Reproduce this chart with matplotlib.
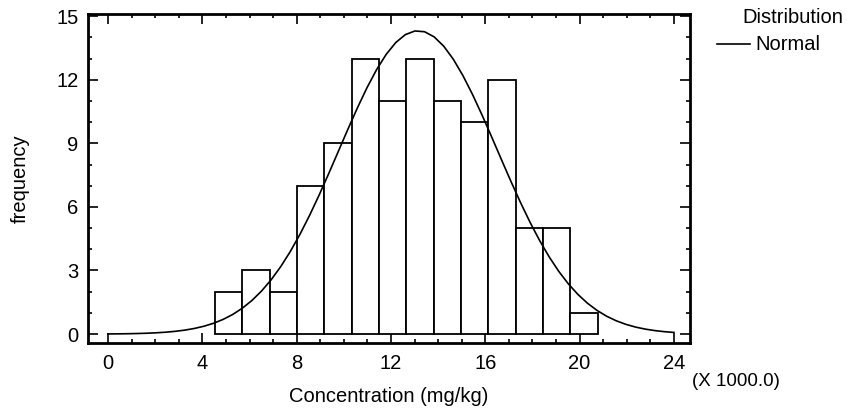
import numpy as np
import matplotlib
matplotlib.use("Agg")
import matplotlib.pyplot as plt
from matplotlib.ticker import MultipleLocator

plt.rcParams['font.family'] = ['Liberation Sans', 'DejaVu Sans']

# histogram (concentration in thousands of mg/kg)
bin_start = 4.54
bin_width = 1.159
counts = [2, 3, 2, 7, 9, 13, 11, 13, 11, 10, 12, 5, 5, 1]

# fitted normal distribution
mu = 13.15
sigma = 3.36
n_obs = sum(counts)

edges = bin_start + bin_width * np.arange(len(counts))
xs = np.linspace(0, 24, 60)
ys = n_obs * bin_width / (sigma * np.sqrt(2 * np.pi)) * np.exp(-0.5 * ((xs - mu) / sigma) ** 2)

fs = 14.5
fig = plt.figure(figsize=(8.47, 4.12), dpi=100)
ax = fig.add_axes([0.1039, 0.1675, 0.7107, 0.7985])

ax.bar(edges, counts, width=bin_width, align='edge', color='white',
       edgecolor='black', linewidth=1.3, zorder=2)
ax.plot(xs, ys, color='black', linewidth=1.2, zorder=3)

ax.set_xlim(-0.85, 24.68)
ax.set_ylim(-0.42, 15.1)
ax.xaxis.set_major_locator(MultipleLocator(4))
ax.xaxis.set_minor_locator(MultipleLocator(1))
ax.yaxis.set_major_locator(MultipleLocator(3))
ax.yaxis.set_minor_locator(MultipleLocator(1))
ax.tick_params(which='both', direction='in', top=True, right=True, labelsize=fs, width=1.2)
ax.tick_params(which='major', length=7)
ax.tick_params(which='minor', length=3)
ax.tick_params(axis='x', which='major', pad=8)
ax.tick_params(axis='y', which='major', pad=7)
for s in ax.spines.values():
    s.set_linewidth(2)

ax.set_xlabel("Concentration (mg/kg)", fontsize=fs, labelpad=10)
ax.set_ylabel("frequency", fontsize=fs, labelpad=19)
fig.text(0.8175, 0.073, "(X 1000.0)", fontsize=13.5, va='center')

# legend outside on the right
fig.text(0.996, 0.958, "Distribution", fontsize=fs, ha='right', va='center')
fig.add_artist(plt.Line2D([0.847, 0.886], [0.893, 0.893], color='black', linewidth=1.2))
fig.text(0.892, 0.893, "Normal", fontsize=fs, ha='left', va='center')

fig.savefig("out.png", dpi=100)
